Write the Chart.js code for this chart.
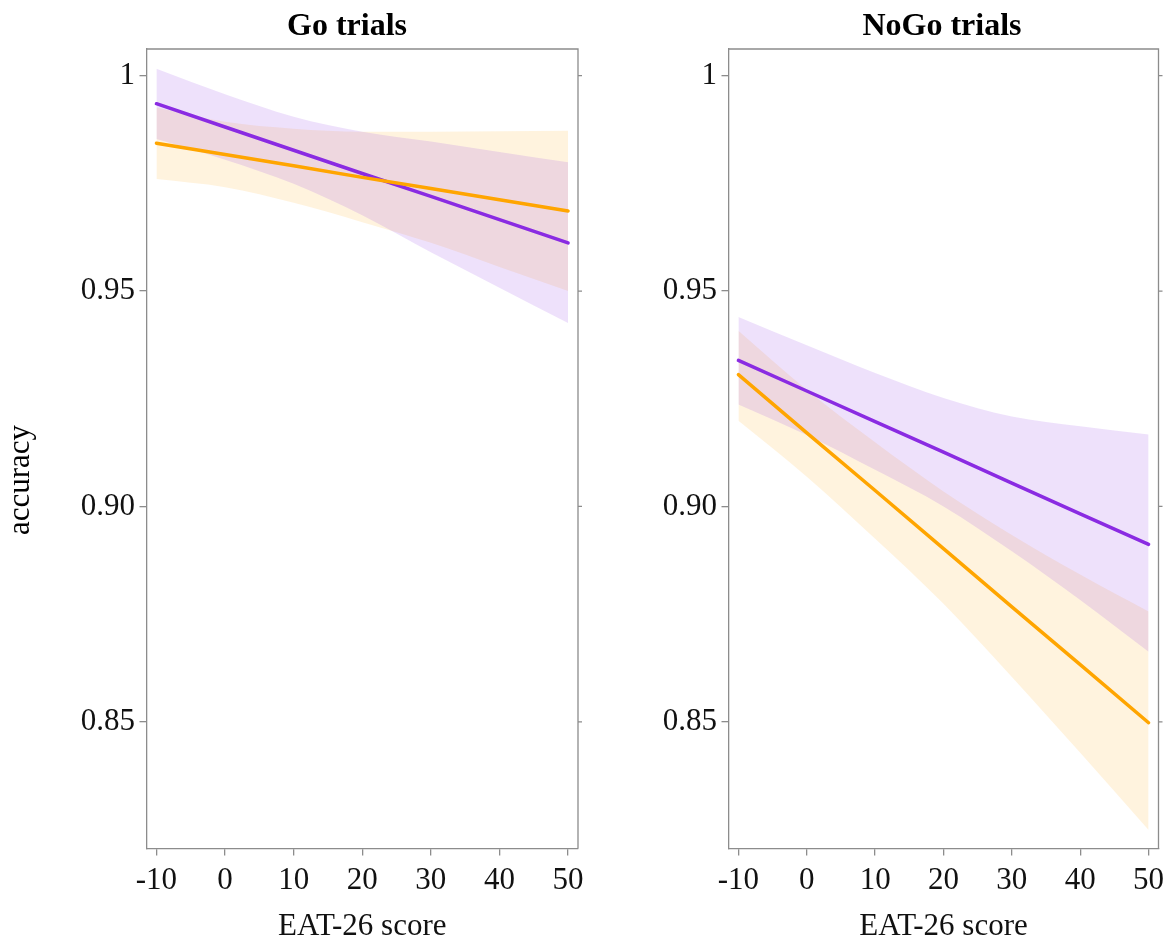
<!DOCTYPE html>
<html>
<head>
<meta charset="utf-8">
<title>Accuracy by EAT-26 score</title>
<script src="https://cdn.jsdelivr.net/npm/chart.js@4"></script>
<style>
    body { margin: 0; background: #fff; }
    #wrap { position: relative; width: 1173px; height: 942px; }
    canvas { position: absolute; top: 0; }
</style>
</head>
<body>
<div id="wrap">
    <canvas id="chart_go" width="586" height="942" style="left:0"></canvas>
    <canvas id="chart_nogo" width="587" height="942" style="left:586px"></canvas>
</div>
<script>
// EAT-26 scores where the fitted values are read
const eatScores = [-10, 0, 10, 20, 30, 40, 50];
const eatTicks = [-10, 0, 10, 20, 30, 40, 50];
const accuracyTicks = [0.85, 0.90, 0.95, 1];
const accuracyTickLabels = ['0.85', '0.90', '0.95', '1'];

// Go trials: fitted accuracy and 95% band, purple group
const goPurpleFit   = [0.9935, 0.9881, 0.9827, 0.9773, 0.9720, 0.9666, 0.9612];
const goPurpleUpper = [1.0016, 0.9957, 0.9905, 0.9870, 0.9847, 0.9823, 0.9799];
const goPurpleLower = [0.9853, 0.9805, 0.9749, 0.9676, 0.9590, 0.9508, 0.9426];
// Go trials, orange group
const goOrangeFit   = [0.9843, 0.9817, 0.9791, 0.9764, 0.9738, 0.9712, 0.9686];
const goOrangeUpper = [0.9926, 0.9893, 0.9877, 0.9870, 0.9870, 0.9871, 0.9872];
const goOrangeLower = [0.9760, 0.9741, 0.9705, 0.9660, 0.9612, 0.9556, 0.9500];

// NoGo trials, purple group
const noGoPurpleFit   = [0.9339, 0.9268, 0.9197, 0.9126, 0.9054, 0.8983, 0.8912];
const noGoPurpleUpper = [0.9440, 0.9374, 0.9310, 0.9252, 0.9209, 0.9186, 0.9167];
const noGoPurpleLower = [0.9237, 0.9166, 0.9085, 0.9000, 0.8896, 0.8783, 0.8663];
// NoGo trials, orange group
const noGoOrangeFit   = [0.9306, 0.9171, 0.9037, 0.8902, 0.8767, 0.8633, 0.8498];
const noGoOrangeUpper = [0.9408, 0.9271, 0.9149, 0.9035, 0.8934, 0.8842, 0.8756];
const noGoOrangeLower = [0.9199, 0.9069, 0.8925, 0.8774, 0.8604, 0.8428, 0.8249];

const purple = '#8a2be2';
const orange = '#ffa500';
const purpleBand = 'rgba(138, 43, 226, 0.14)';
const orangeBand = 'rgba(255, 165, 0, 0.13)';
const axisGray = '#8c8c8c';
const serif = '"Liberation Serif", "Times New Roman", serif';

// top/right box edges, right-side ticks, panel title and shared y title
const panelFrame = {
    id: 'panelFrame',
    afterDraw(chart, args, opts) {
        const {ctx, chartArea: area} = chart;
        const yScale = chart.scales.y;
        ctx.save();
        ctx.strokeStyle = axisGray;
        ctx.lineWidth = 1.3;
        ctx.beginPath();
        ctx.moveTo(area.left, area.top);
        ctx.lineTo(area.right, area.top);
        ctx.lineTo(area.right, area.bottom);
        yScale.ticks.forEach(tick => {
            const py = yScale.getPixelForValue(tick.value);
            ctx.moveTo(area.right, py);
            ctx.lineTo(area.right + 4, py);
        });
        ctx.stroke();

        ctx.fillStyle = '#000';
        ctx.textAlign = 'center';
        ctx.textBaseline = 'alphabetic';
        ctx.font = 'bold 32px ' + serif;
        ctx.fillText(opts.title, opts.titleX, 35);

        if (opts.yTitle) {
            ctx.font = '31px ' + serif;
            ctx.textBaseline = 'middle';
            ctx.translate(opts.yTitleX, opts.yTitleY);
            ctx.rotate(-Math.PI / 2);
            ctx.fillText(opts.yTitle, 0, 0);
        }
        ctx.restore();
    }
};

class PanelChart {
    constructor(id, title, series, layout) {
        this.id = id;
        this.title = title;
        this.series = series;
        this.layout = layout;
        this.chart = null;
    }

    points(values) {
        return eatScores.map((x, i) => ({x: x, y: values[i]}));
    }

    band(values, colour, fill, order) {
        return {
            data: this.points(values),
            borderWidth: 0,
            borderColor: 'transparent',
            backgroundColor: colour,
            pointRadius: 0,
            cubicInterpolationMode: 'monotone',
            fill: fill,
            order: order
        };
    }

    fit(values, colour, order) {
        return {
            data: this.points(values),
            borderColor: colour,
            borderWidth: 3.5,
            borderCapStyle: 'round',
            pointRadius: 0,
            tension: 0,
            fill: false,
            order: order
        };
    }

    buildChart() {
        const s = this.series;
        const ctx = document.getElementById(this.id).getContext('2d');
        const tickFont = {family: serif, size: 31};
        this.chart = new Chart(ctx, {
            type: 'line',
            data: {
                datasets: [
                    this.band(s.purpleUpper, purpleBand, '+1', 2),
                    this.band(s.purpleLower, purpleBand, false, 2),
                    this.band(s.orangeUpper, orangeBand, '+1', 3),
                    this.band(s.orangeLower, orangeBand, false, 3),
                    this.fit(s.purpleFit, purple, 1),
                    this.fit(s.orangeFit, orange, 0)
                ]
            },
            options: {
                responsive: false,
                animation: false,
                devicePixelRatio: 1,
                layout: {padding: {top: 49, right: this.layout.padRight, bottom: 0, left: 0}},
                plugins: {
                    legend: {display: false},
                    tooltip: {enabled: false},
                    panelFrame: {
                        title: this.title,
                        titleX: this.layout.titleX,
                        yTitle: this.layout.yTitle,
                        yTitleX: 21,
                        yTitleY: 480
                    }
                },
                scales: {
                    x: {
                        type: 'linear',
                        min: -11.45,
                        max: 51.45,
                        afterBuildTicks: scale => { scale.ticks = eatTicks.map(v => ({value: v})); },
                        afterFit: scale => {
                            // labels may hang past the plot edge; the layout padding already leaves room
                            scale.height = 93.5;
                            scale.paddingLeft = 0;
                            scale.paddingRight = 0;
                        },
                        ticks: {font: tickFont, color: '#111', padding: 7, maxRotation: 0, includeBounds: false},
                        grid: {drawOnChartArea: false, tickLength: 7, color: axisGray, lineWidth: 1.3},
                        border: {color: axisGray, width: 1.3},
                        title: {
                            display: true,
                            text: 'EAT-26 score',
                            color: '#111',
                            font: {family: serif, size: 31, lineHeight: 1},
                            padding: 0
                        }
                    },
                    y: {
                        type: 'linear',
                        min: 0.8206,
                        max: 1.0062,
                        afterBuildTicks: scale => { scale.ticks = accuracyTicks.map(v => ({value: v})); },
                        afterFit: scale => {
                            scale.width = this.layout.yWidth;
                            scale.paddingTop = 0;
                            scale.paddingBottom = 0;
                        },
                        ticks: {
                            font: tickFont,
                            color: '#111',
                            padding: 4.5,
                            callback: (value, index) => accuracyTickLabels[index]
                        },
                        grid: {drawOnChartArea: false, tickLength: 7, color: axisGray, lineWidth: 1.3},
                        border: {color: axisGray, width: 1.3}
                    }
                }
            },
            plugins: [panelFrame]
        });
    }
}

const goPanel = new PanelChart('chart_go', 'Go trials', {
    purpleFit: goPurpleFit, purpleUpper: goPurpleUpper, purpleLower: goPurpleLower,
    orangeFit: goOrangeFit, orangeUpper: goOrangeUpper, orangeLower: goOrangeLower
}, {padRight: 8, yWidth: 146.5, titleX: 347, yTitle: 'accuracy'});

const noGoPanel = new PanelChart('chart_nogo', 'NoGo trials', {
    purpleFit: noGoPurpleFit, purpleUpper: noGoPurpleUpper, purpleLower: noGoPurpleLower,
    orangeFit: noGoOrangeFit, orangeUpper: noGoOrangeUpper, orangeLower: noGoOrangeLower
}, {padRight: 14.5, yWidth: 142.5, titleX: 356, yTitle: null});

goPanel.buildChart();
noGoPanel.buildChart();
</script>
</body>
</html>
